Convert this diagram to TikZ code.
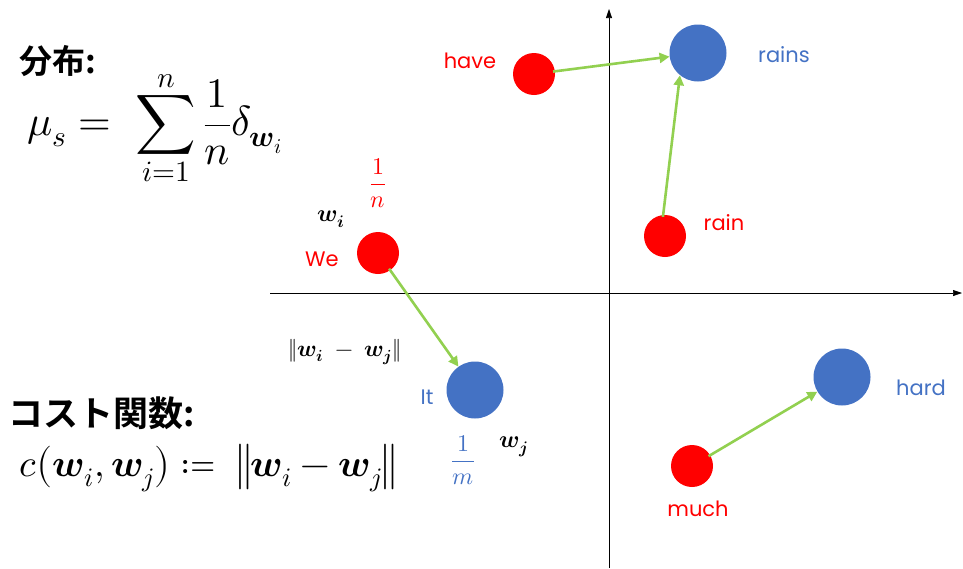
\documentclass[tikz,border=0pt]{standalone}
\usepackage{amsmath}
\usepackage{mathtools}
\usepackage{fontspec}
\usepackage{unicode-math}
\setmathfont{Latin Modern Math}
\setsansfont{Poppins}
\newfontfamily\jpfont{Noto Sans CJK JP}[BoldFont={Noto Sans CJK JP Bold}]
\usetikzlibrary{arrows.meta}
\definecolor{ptblue}{HTML}{4472C4}
\definecolor{ptgreen}{HTML}{92D050}

\begin{document}
\begin{tikzpicture}[x=1pt,y=-1pt,
  redpt/.style={circle,fill=red,minimum size=42pt,inner sep=0pt},
  bluept/.style={circle,fill=ptblue,minimum size=57pt,inner sep=0pt},
  word/.style={font=\sffamily\fontsize{21}{25}\selectfont},
  moveline/.style={draw=ptgreen,line width=2.6pt,-{Triangle[length=10pt,width=10pt]},shorten <=-2pt},
  axis/.style={-{Triangle[length=9pt,width=6pt]},line width=0.6pt}]
\useasboundingbox (0,0) rectangle (963,568);

% axes
\coordinate (xl) at (270,293);
\coordinate (xr) at (962,293);
\coordinate (yb) at (609,568);
\coordinate (yt) at (609,9);
\draw[axis] (xl) -- (xr);
\draw[axis] (yb) -- (yt);

% words
\node[redpt] (have) at (534,74) {};
\node[bluept] (rains) at (698,53) {};
\node[redpt] (rain) at (665,236) {};
\node[redpt] (we) at (378,253) {};
\node[bluept] (it) at (475,390) {};
\node[bluept] (hard) at (842,377) {};
\node[redpt] (much) at (692,466) {};

\node[word,red] (havelbl) at (470,61) {have};
\node[word,ptblue] (rainslbl) at (784,55) {rains};
\node[word,red] (rainlbl) at (724,223) {rain};
\node[word,red] (welbl) at (322,259) {We};
\node[word,ptblue] (itlbl) at (427,397) {It};
\node[word,ptblue] (hardlbl) at (921,388) {hard};
\node[word,red] (muchlbl) at (698,509) {much};

\draw[moveline] (have) -- (rains);
\draw[moveline] (rain.95) -- (rains.231);
\draw[moveline] (we) -- (it);
\draw[moveline] (much) -- (hard);

% weights
\node[red,font=\fontsize{24}{28}\selectfont] (wn) at (378,183) {$\dfrac{1}{n}$};
\node[font=\fontsize{24}{28}\selectfont] (wi) at (331,219) {$\symbfit{w}_{\symbfit{i}}$};
\node[font=\fontsize{23}{27}\selectfont] (dist) at (345,352) {$\|\symbfit{w}_{\symbfit{i}}\;-\;\symbfit{w}_{\symbfit{j}}\|$};
\node[ptblue,font=\fontsize{24}{28}\selectfont] (wm) at (463,460) {$\dfrac{1}{m}$};
\node[font=\fontsize{24}{28}\selectfont] (wj) at (514,447) {$\symbfit{w}_{\symbfit{j}}$};

% formulas
\node[anchor=west,font=\jpfont\bfseries\fontsize{33}{38}\selectfont] (disttitle) at (16,61) {分布:};
\node[anchor=west,font=\fontsize{42}{48}\selectfont] (mu) at (24,128)
  {$\displaystyle \mu_s =\ \sum_{i=1}^{n}\frac{1}{n}\delta_{\symbfit{w}_i}$};
\node[anchor=west,font=\jpfont\bfseries\fontsize{35}{42}\selectfont] (costtitle) at (5,413) {コスト関数:};
\node[anchor=west,font=\fontsize{38}{44}\selectfont] (cost) at (16,468)
  {$c\bigl(\symbfit{w}_i,\symbfit{w}_j\bigr) \coloneqq\ \bigl\|\symbfit{w}_i-\symbfit{w}_j\bigr\|$};
\end{tikzpicture}
\end{document}
